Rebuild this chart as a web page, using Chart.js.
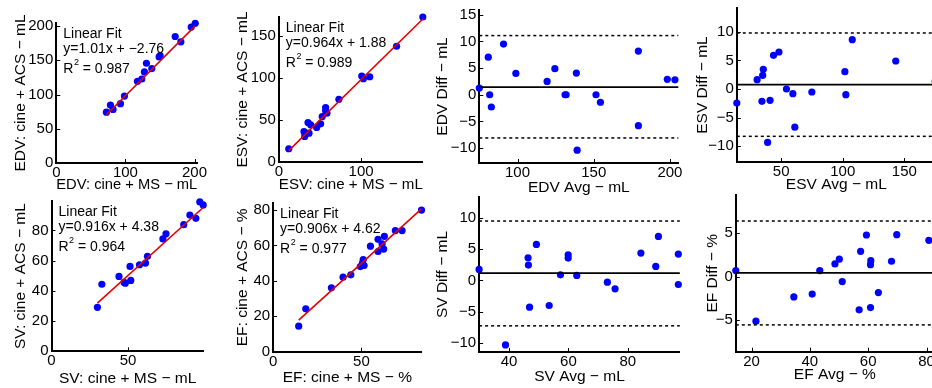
<!DOCTYPE html>
<html>
<head>
<meta charset="utf-8">
<script src="https://cdn.jsdelivr.net/npm/chart.js@4.4.0/dist/chart.umd.min.js"></script>
<style>
  html, body { margin: 0; padding: 0; background: #fff; width: 932px; height: 388px; overflow: hidden; }
  canvas { position: absolute; }
</style>
</head>
<body>
<canvas id="edvFit"></canvas>
<canvas id="esvFit"></canvas>
<canvas id="edvBA"></canvas>
<canvas id="esvBA"></canvas>
<canvas id="svFit"></canvas>
<canvas id="efFit"></canvas>
<canvas id="svBA"></canvas>
<canvas id="efBA"></canvas>
<script>
// ---- EDV ----
const edvMS  = [72.5, 78.3, 82.1, 92.8, 98.6, 117.4, 123.7, 127.5, 130.4, 138.2, 148.8, 150.2, 172, 180.2, 195.2, 201];
const edvACS = [74.3, 84.6, 78.2, 86.6, 97.8, 119.3, 122.7, 133, 145.7, 137.9, 155, 157, 184.8, 177, 198.5, 204];
const edvFitLine = [[72.5, 70.5], [201, 200.3]];
const edvFitText = ['Linear Fit', 'y=1.01x + \u22122.76', '0.987'];
const edvAvg  = [74.9, 80.8, 81.7, 82.8, 90.8, 98.9, 119.4, 124.5, 131.2, 131.9, 138.6, 139.1, 151.5, 154.4, 179.3, 179.3, 198.3, 203.3];
const edvDiff = [1.25, 7.06, 0, -2.3, 9.5, 4.0, 2.5, 4.9, 0, 0, 4.06, -10.4, 0, -1.4, 8.2, -5.8, 2.9, 2.8];
const edvBALines = [1.44, 11.1, -8.1]; // mean, upper, lower

// ---- ESV ----
const esvMS  = [12.1, 30.6, 31.5, 35.5, 36.7, 38.7, 46, 50.8, 52.8, 56.9, 56.9, 58.5, 73, 100.8, 102.8, 110.5, 143.1, 175];
const esvACS = [15.8, 36.4, 30.5, 47.1, 34.4, 44.3, 41.2, 45.5, 54.2, 64.9, 61, 58.2, 74.8, 102.5, 99.3, 101.7, 138.1, 173];
const esvFitLine = [[12.1, 13.5], [175, 170.6]];
const esvFitText = ['Linear Fit', 'y=0.964x + 1.88', '0.989'];
const esvAvg  = [14, 30.5, 34.4, 35, 35.5, 41, 43.8, 48.2, 54.3, 59.5, 61.1, 74.9, 101.7, 102.5, 107.7, 143, 175, 39];
const esvDiff = [-2.46, 1.64, -2.16, 2.4, 3.45, -1.99, 5.9, 6.49, 0, -0.82, -6.7, -0.53, 3.04, -0.99, 8.65, 4.91, 1.35, -9.36];
const esvBALines = [0.76, 9.82, -8.3];

// ---- SV ----
const svMS  = [30, 32.9, 44.1, 47.4, 48.2, 51.3, 51.8, 57.5, 61.4, 62.7, 72.8, 74.8, 86.4, 90.4, 94.3, 96.9, 99.1];
const svACS = [29.1, 44.4, 49.6, 45.6, 45.1, 56.2, 46.9, 57.3, 58.4, 62.9, 74.4, 77.8, 83.8, 90.2, 88, 98.9, 96.9];
const svFitLine = [[30, 31.9], [99.1, 95.2]];
const svFitText = ['Linear Fit', 'y=0.916x + 4.38', '0.964'];
const svAvg  = [29.9, 38.8, 46.4, 46.5, 46.9, 49.2, 53.5, 57.3, 59.9, 59.9, 62.8, 73.1, 75.7, 84.4, 89.4, 90.3, 97, 97];
const svDiff = [1.76, -10.27, 3.62, 2.45, -4.26, 5.74, -3.99, 0.9, 4.1, 3.56, 0.8, -0.27, -1.33, 4.36, 2.23, 7.02, 4.2, -0.64];
const svBALines = [1.17, 9.47, -7.23];

// ---- EF ----
const efMS  = [14.5, 18.5, 33, 39.6, 44, 49.4, 50.6, 51, 51.5, 55.1, 59.4, 59.4, 61.7, 62.6, 63, 69.2, 73, 84];
const efACS = [14.4, 24.2, 36.1, 42.1, 43.4, 48.1, 50, 52, 48.7, 59.6, 63.5, 56.6, 60.9, 58, 65.2, 68.4, 68.4, 80];
const efFitLine = [[14.5, 17.8], [84, 80.7]];
const efFitText = ['Linear Fit', 'y=0.906x + 4.62', '0.977'];
const efAvg  = [14.6, 21.5, 34.5, 40.8, 43.4, 48.6, 50.1, 51.1, 56.9, 57.4, 59.4, 60.8, 60.9, 60.8, 63.5, 68, 69.8, 80.8];
const efDiff = [0.69, -5.1, -2.33, -2.0, 0.69, 1.45, 2.0, -0.57, -3.8, 2.9, 4.77, -3.55, 1.83, 1.37, -1.83, 1.76, 4.8, 4.16];
const efBALines = [0.42, 6.37, -5.53];

// axis ranges and tick labels
const edvFitXTicks = [0, 100, 200], edvFitYTicks = [0, 50, 100, 150, 200];
const esvFitXTicks = [0, 100],      esvFitYTicks = [0, 50, 100, 150];
const svFitXTicks  = [0, 50],       svFitYTicks  = [0, 20, 40, 60, 80];
const efFitXTicks  = [0, 50],       efFitYTicks  = [0, 20, 40, 60, 80];
const edvBAXTicks = [100, 150, 200], edvBAYTicks = [-10, -5, 0, 5, 10, 15];
const esvBAXTicks = [50, 100, 150],  esvBAYTicks = [-10, -5, 0, 5, 10];
const svBAXTicks  = [40, 60, 80],    svBAYTicks  = [-10, -5, 0, 5, 10];
const efBAXTicks  = [20, 40, 60, 80], efBAYTicks = [-5, 0, 5];

const edvFitX = [0, 204], edvFitY = [0, 204.5];
const esvFitX = [0, 175], esvFitY = [0, 173];
const svFitX = [0, 99.5], svFitY = [0, 99.5];
const efFitX = [0, 84], efFitY = [0, 84];
const edvBAX = [74.9, 205.5], edvBAY = [-12.8, 15.9];
const esvBAX = [14, 175.5], esvBAY = [-12.8, 14.2];
const svBAX = [29.9, 97.5], svBAY = [-11.4, 13.3];
const efBAX = [14.6, 82.5], efBAY = [-8.6, 9.35];

const FONT = '"Liberation Sans", Arial, Helvetica, sans-serif';
const TICK_SIZE = 15;
const TITLE_SIZE = 15.5;
const BLUE = 'rgb(0,0,255)';

const pairs = (xs, ys) => xs.map((x, i) => ({ x: x, y: ys[i] }));
const minus = v => String(v).replace('-', '\u2212');

// inward tick marks + "Linear Fit" annotation
const extrasPlugin = {
  id: 'extras',
  afterDatasetsDraw(chart, args, opts) {
    const { ctx, chartArea, scales } = chart;
    ctx.save();
    ctx.strokeStyle = '#000';
    ctx.lineWidth = 1;
    scales.x.ticks.forEach(t => {
      const px = Math.round(scales.x.getPixelForValue(t.value)) + 0.5;
      ctx.beginPath(); ctx.moveTo(px, chartArea.bottom); ctx.lineTo(px, chartArea.bottom - 4); ctx.stroke();
    });
    scales.y.ticks.forEach(t => {
      const py = Math.round(scales.y.getPixelForValue(t.value)) + 0.5;
      ctx.beginPath(); ctx.moveTo(chartArea.left, py); ctx.lineTo(chartArea.left + 4, py); ctx.stroke();
    });
    if (opts.lines) {
      const x = chartArea.left + 7;
      ctx.fillStyle = '#000';
      ctx.textBaseline = 'middle';
      ctx.font = '14px ' + FONT;
      ctx.fillText(opts.lines[0], x, chartArea.top + 11);
      ctx.fillText(opts.lines[1], x, chartArea.top + 26);
      const y3 = chartArea.top + 46;
      ctx.fillText('R', x, y3);
      const rw = ctx.measureText('R').width;
      ctx.font = '9px ' + FONT;
      ctx.fillText('2', x + rw + 0.5, y3 - 6);
      const sw = ctx.measureText('2').width;
      ctx.font = '14px ' + FONT;
      ctx.fillText(' = ' + opts.lines[2], x + rw + sw + 0.5, y3);
    }
    ctx.restore();
  }
};

function makePanel(id, box, datasets, xr, yr, xTicks, yTicks, xTitle, yTitle, fitText) {
  const lh = TITLE_SIZE * 1.2;
  const cx = box.yTitleX - lh / 2 - 2;
  const cy = box.top - 12;
  const cw = box.right + 20 - cx;
  const ch = box.xTitleY + lh / 2 + 2 - cy;
  const canvas = document.getElementById(id);
  canvas.style.left = cx + 'px';
  canvas.style.top = cy + 'px';
  canvas.width = Math.round(cw);
  canvas.height = Math.round(ch);
  const tickOpts = {
    color: '#000', font: { family: FONT, size: TICK_SIZE }, autoSkip: false, maxRotation: 0,
    callback: v => minus(v)
  };
  const gridOpts = { display: false, drawTicks: false, tickLength: 0 };
  return new Chart(canvas, {
    type: 'scatter',
    data: { datasets: datasets },
    options: {
      responsive: false,
      animation: false,
      events: [],
      layout: { padding: { top: box.top - cy, right: cx + canvas.width - box.right, left: 0, bottom: 0 } },
      plugins: { legend: { display: false }, tooltip: { enabled: false }, extras: { lines: fitText } },
      scales: {
        x: {
          type: 'linear', position: 'bottom', min: xr[0], max: xr[1],
          grid: gridOpts, border: { color: '#000', width: 2 },
          ticks: Object.assign({ padding: 1 }, tickOpts),
          title: { display: true, text: xTitle, color: '#000', font: { family: FONT, size: TITLE_SIZE }, padding: { top: 0, bottom: 2 } },
          afterBuildTicks: a => { a.ticks = xTicks.map(v => ({ value: v })); },
          afterFit: a => { a.height = cy + canvas.height - box.bottom; }
        },
        y: {
          type: 'linear', position: 'left', min: yr[0], max: yr[1],
          grid: gridOpts, border: { color: '#000', width: 2 },
          ticks: Object.assign({ padding: 3 }, tickOpts),
          title: { display: true, text: yTitle, color: '#000', font: { family: FONT, size: TITLE_SIZE }, padding: { top: 2, bottom: 0 } },
          afterBuildTicks: a => { a.ticks = yTicks.map(v => ({ value: v })); },
          afterFit: a => { a.width = box.left - cx; }
        }
      }
    },
    plugins: [extrasPlugin]
  });
}

function fitSets(xs, ys, line) {
  return [
    { data: line.map(p => ({ x: p[0], y: p[1] })), showLine: true, borderColor: 'rgb(230,0,0)', borderWidth: 1.6,
      pointRadius: 0, order: 0, clip: false },
    { data: pairs(xs, ys), pointRadius: 3.6, pointBackgroundColor: BLUE, pointBorderWidth: 0, order: 1, clip: false }
  ];
}

function baSets(xs, ys, lines, xr) {
  const hl = (v, dash) => ({
    data: [{ x: xr[0], y: v }, { x: xr[1], y: v }], showLine: true, borderColor: '#000',
    borderWidth: dash ? 1.5 : 1.8, borderDash: dash ? [3, 3] : [], pointRadius: 0, order: 0, clip: false
  });
  return [
    hl(lines[0], false), hl(lines[1], true), hl(lines[2], true),
    { data: pairs(xs, ys), pointRadius: 3.6, pointBackgroundColor: BLUE, pointBorderWidth: 0, order: 1, clip: false }
  ];
}

makePanel('edvFit', { left: 56, right: 197, top: 23, bottom: 163, yTitleX: 20, xTitleY: 185 },
  fitSets(edvMS, edvACS, edvFitLine), edvFitX, edvFitY, edvFitXTicks, edvFitYTicks,
  'EDV: cine + MS \u2212 mL', 'EDV: cine + ACS \u2212 mL', edvFitText);

makePanel('esvFit', { left: 279, right: 423, top: 17, bottom: 162, yTitleX: 242.5, xTitleY: 185 },
  fitSets(esvMS, esvACS, esvFitLine), esvFitX, esvFitY, esvFitXTicks, esvFitYTicks,
  'ESV: cine + MS \u2212 mL', 'ESV: cine + ACS \u2212 mL', esvFitText);

makePanel('edvBA', { left: 479, right: 678, top: 10, bottom: 163, yTitleX: 442, xTitleY: 188 },
  baSets(edvAvg, edvDiff, edvBALines, edvBAX), edvBAX, edvBAY, edvBAXTicks, edvBAYTicks,
  'EDV Avg \u2212 mL', 'EDV Diff \u2212 mL', null);

makePanel('esvBA', { left: 737, right: 936, top: 8, bottom: 162, yTitleX: 702.5, xTitleY: 185 },
  baSets(esvAvg, esvDiff, esvBALines, esvBAX), esvBAX, esvBAY, esvBAXTicks, esvBAYTicks,
  'ESV Avg \u2212 mL', 'ESV Diff \u2212 mL', null);

makePanel('svFit', { left: 51.7, right: 204, top: 200.7, bottom: 351, yTitleX: 20.5, xTitleY: 378 },
  fitSets(svMS, svACS, svFitLine), svFitX, svFitY, svFitXTicks, svFitYTicks,
  'SV: cine + MS \u2212 mL', 'SV: cine + ACS \u2212 mL', svFitText);

makePanel('efFit', { left: 273.3, right: 421.7, top: 203, bottom: 351.7, yTitleX: 242.5, xTitleY: 378 },
  fitSets(efMS, efACS, efFitLine), efFitX, efFitY, efFitXTicks, efFitYTicks,
  'EF: cine + MS \u2212 %', 'EF: cine + ACS \u2212 %', efFitText);

makePanel('svBA', { left: 479.3, right: 680, top: 196.7, bottom: 351.7, yTitleX: 442.5, xTitleY: 376.7 },
  baSets(svAvg, svDiff, svBALines, svBAX), svBAX, svBAY, svBAXTicks, svBAYTicks,
  'SV Avg \u2212 mL', 'SV Diff \u2212 mL', null);

makePanel('efBA', { left: 736, right: 934, top: 195, bottom: 351.7, yTitleX: 712.5, xTitleY: 375 },
  baSets(efAvg, efDiff, efBALines, efBAX), efBAX, efBAY, efBAXTicks, efBAYTicks,
  'EF Avg \u2212 %', 'EF Diff \u2212 %', null);
</script>
</body>
</html>
